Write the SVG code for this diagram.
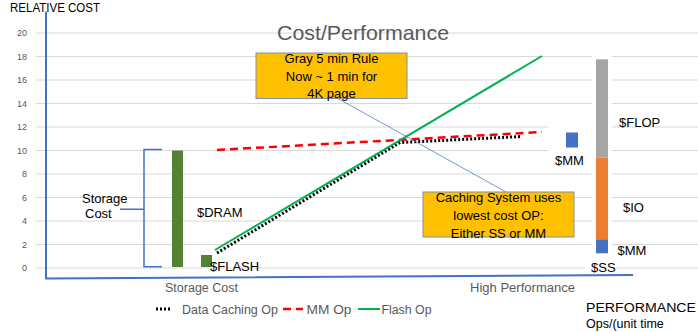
<svg xmlns="http://www.w3.org/2000/svg" width="698" height="332" viewBox="0 0 698 332">
  <style>
    text { font-family: "Liberation Sans", Arial, sans-serif; }
    .grid { stroke: #d9d9d9; stroke-width: 1; }
    .tick { font-size: 9px; fill: #595959; text-anchor: end; }
    .axis { fill: none; stroke: #4472c4; stroke-width: 2; }
    .lbl { font-size: 13px; fill: #000; }
    .cat { font-size: 12.5px; fill: #595959; }
    .note { fill: #ffc000; stroke: #7f8fa6; stroke-width: 1; }
    .notetxt { font-size: 13px; fill: #000; text-anchor: middle; }
    .dots { fill: none; stroke: #000; stroke-width: 3; stroke-dasharray: 2 2; }
    .dash { fill: none; stroke: #ff0000; stroke-width: 2.5; stroke-dasharray: 8 5; }
    .flash { fill: none; stroke: #00b050; stroke-width: 2; }
    .bracket { fill: none; stroke: #4472c4; stroke-width: 1.5; }
  </style>

  <rect width="698" height="332" fill="#ffffff"/>

  <!-- value gridlines -->
  <g id="gridlines">
    <line class="grid" x1="36" y1="33" x2="698" y2="33"/>
    <line class="grid" x1="36" y1="56.5" x2="698" y2="56.5"/>
    <line class="grid" x1="36" y1="80" x2="698" y2="80"/>
    <line class="grid" x1="36" y1="103.5" x2="698" y2="103.5"/>
    <line class="grid" x1="36" y1="127" x2="698" y2="127"/>
    <line class="grid" x1="36" y1="150.5" x2="698" y2="150.5"/>
    <line class="grid" x1="36" y1="174" x2="698" y2="174"/>
    <line class="grid" x1="36" y1="197.5" x2="698" y2="197.5"/>
    <line class="grid" x1="36" y1="221" x2="698" y2="221"/>
    <line class="grid" x1="36" y1="244.5" x2="698" y2="244.5"/>
    <line class="grid" x1="36" y1="268" x2="698" y2="268"/>
    <!-- label backgrounds that mask the grid -->
    <rect x="548" y="120" width="44" height="48" fill="#ffffff"/>
    <rect x="592" y="55" width="20" height="218" fill="#ffffff"/>
    <rect x="585" y="255" width="28" height="17" fill="#ffffff"/>
  </g>

  <g id="y-ticks">
    <text class="tick" x="27" y="36">20</text>
    <text class="tick" x="27" y="59.5">18</text>
    <text class="tick" x="27" y="83">16</text>
    <text class="tick" x="27" y="106.5">14</text>
    <text class="tick" x="27" y="130">12</text>
    <text class="tick" x="27" y="153.5">10</text>
    <text class="tick" x="27" y="177">8</text>
    <text class="tick" x="27" y="200.5">6</text>
    <text class="tick" x="27" y="224">4</text>
    <text class="tick" x="27" y="247.5">2</text>
    <text class="tick" x="27" y="271">0</text>
  </g>

  <!-- axes -->
  <g id="axes">
    <polyline class="axis" points="46,11.5 46,278.5 633,275"/>
    <text x="10" y="12" font-size="12.5" fill="#000" textLength="90" lengthAdjust="spacingAndGlyphs">RELATIVE COST</text>
    <text class="cat" x="165" y="291.5" textLength="73" lengthAdjust="spacingAndGlyphs">Storage Cost</text>
    <text class="cat" x="470" y="291.5" textLength="105" lengthAdjust="spacingAndGlyphs">High Performance</text>
    <text x="586" y="312" font-size="12.5" fill="#000" textLength="110" lengthAdjust="spacingAndGlyphs">PERFORMANCE</text>
    <text x="586" y="327.5" font-size="12.5" fill="#000">Ops/(unit time</text>
  </g>

  <text id="title" x="277" y="40" font-size="21" fill="#595959" textLength="172" lengthAdjust="spacingAndGlyphs">Cost/Performance</text>

  <!-- storage cost bracket -->
  <g id="storage-cost">
    <path class="bracket" d="M162,149.5 H144 V266.7 H162 M144,209.3 H120"/>
    <text class="lbl" x="82" y="203" font-size="12.5">Storage</text>
    <text class="lbl" x="85" y="218" font-size="12.5">Cost</text>
  </g>

  <g id="dram">
    <rect x="172" y="150.5" width="11" height="116.5" fill="#548235"/>
    <text class="lbl" x="197" y="217">$DRAM</text>
  </g>

  <g id="flash">
    <rect x="201" y="255" width="11" height="12" fill="#548235"/>
    <text class="lbl" x="210" y="271">$FLASH</text>
  </g>

  <g id="mm-point">
    <rect x="566" y="132.5" width="12" height="15" fill="#4472c4"/>
    <text class="lbl" x="555" y="164.5">$MM</text>
  </g>

  <g id="op-stack">
    <rect x="596" y="59.3" width="12" height="98.4" fill="#a5a5a5"/>
    <rect x="596" y="157.7" width="12" height="81.6" fill="#ed7d31"/>
    <rect x="596" y="239.3" width="12" height="14" fill="#4472c4"/>
    <text class="lbl" x="619" y="127">$FLOP</text>
    <text class="lbl" x="623" y="212">$IO</text>
    <text class="lbl" x="617.5" y="255">$MM</text>
    <text class="lbl" x="591" y="271.5">$SS</text>
  </g>

  <!-- cost curves and callout line -->
  <g id="connectors">
    <polyline class="dash" points="217,150 542,132"/>
    <polyline class="dots" points="217,253 400,142.5 522,136.5"/>
    <line class="flash" x1="215" y1="250" x2="542" y2="56"/>
    <line x1="338" y1="98.5" x2="506" y2="192" stroke="#4472c4" stroke-width="0.75"/>
  </g>

  <g id="gray-rule">
    <rect class="note" x="256" y="53" width="151" height="45.5"/>
    <text class="notetxt" x="331.5" y="63">Gray 5 min Rule</text>
    <text class="notetxt" x="331.5" y="81">Now ~ 1 min for</text>
    <text class="notetxt" x="331.5" y="98">4K page</text>
  </g>

  <g id="caching-system">
    <rect class="note" x="423" y="192" width="151" height="45"/>
    <text class="notetxt" x="498.5" y="202">Caching System uses</text>
    <text class="notetxt" x="498.5" y="220">lowest cost OP:</text>
    <text class="notetxt" x="498.5" y="237.5">Either SS or MM</text>
  </g>

  <!-- legend -->
  <g id="legend">
    <line class="dots" x1="156" y1="309" x2="172" y2="309"/>
    <text class="cat" x="182" y="313.5" textLength="96" lengthAdjust="spacingAndGlyphs">Data Caching Op</text>
    <line class="dash" x1="283" y1="309" x2="303" y2="309" stroke-dasharray="7 6"/>
    <text class="cat" x="306.5" y="313.5" textLength="45" lengthAdjust="spacingAndGlyphs">MM Op</text>
    <line class="flash" x1="358" y1="309" x2="380" y2="309"/>
    <text class="cat" x="381.5" y="313.5" textLength="50" lengthAdjust="spacingAndGlyphs">Flash Op</text>
  </g>
</svg>
